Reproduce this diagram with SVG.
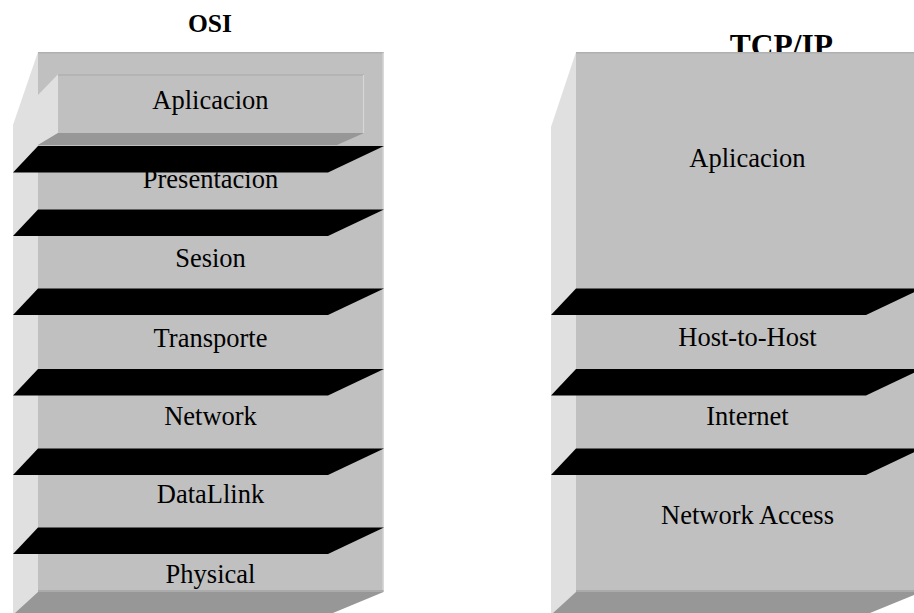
<svg xmlns="http://www.w3.org/2000/svg" width="914" height="613" viewBox="0 0 914 613">
  <style>
    .body { fill: #c0c0c0; }
    .light { fill: #e0e0e0; }
    .dark { fill: #979797; }
    .plate { fill: #000000; }
    .bevel-top { stroke: #b0b0b0; stroke-width: 1.5; fill: none; }
    .bevel-right { stroke: #d6d6d6; stroke-width: 1.2; fill: none; }
    .bevel-bottom { stroke: #ababab; stroke-width: 2; fill: none; }
    .label { font-family: "Liberation Serif", "Times New Roman", serif; font-size: 26.5px; fill: #000000; text-anchor: middle; }
    .title { font-family: "Liberation Serif", "Times New Roman", serif; font-weight: bold; fill: #000000; text-anchor: middle; }
  </style>
  <rect x="0" y="0" width="914" height="613" fill="#ffffff"/>

  <!-- OSI stack -->
  <g id="osi-title">
    <text class="title" x="210" y="32" font-size="25.5">OSI</text>
  </g>
  <g id="osi-stack">
    <polygon class="light" points="13,125 38,52 38,613 13,613"/>
    <rect class="body" x="38" y="52" width="345.5" height="540"/>
    <polygon class="dark" points="38,592 383.5,592 333,613 15,613"/>
    <line class="bevel-top" x1="38" y1="52.8" x2="383.5" y2="52.8"/>
    <line class="bevel-right" x1="383" y1="53" x2="383" y2="591"/>
    <line class="bevel-bottom" x1="38" y1="591" x2="383.5" y2="591"/>
  </g>
  <g id="osi-aplicacion">
    <polygon class="light" points="38,95 58,74.3 58,133 38,145"/>
    <rect class="body" x="58" y="74.3" width="306" height="58.7"/>
    <polygon class="dark" points="58,133 364,133 337,145 38,145"/>
    <line class="bevel-top" x1="58" y1="75" x2="364" y2="75"/>
    <line class="bevel-right" x1="363.5" y1="75" x2="363.5" y2="133"/>
    <text class="label" x="210.5" y="109">Aplicacion</text>
  </g>
  <g id="osi-presentacion">
    <text class="label" x="210.5" y="188">Presentacion</text>
  </g>
  <g id="osi-sesion">
    <text class="label" x="210.5" y="267">Sesion</text>
  </g>
  <g id="osi-transporte">
    <text class="label" x="210.5" y="346.7">Transporte</text>
  </g>
  <g id="osi-network">
    <text class="label" x="210.5" y="425">Network</text>
  </g>
  <g id="osi-datalink">
    <text class="label" x="210.5" y="503">DataLlink</text>
  </g>
  <g id="osi-physical">
    <text class="label" x="210.5" y="583">Physical</text>
  </g>
  <g id="osi-separators">
    <polygon class="plate" points="38,146 384,146 328,172.5 13,172.5"/>
    <polygon class="plate" points="38,209.5 384,209.5 328,236 13,236"/>
    <polygon class="plate" points="38,288.5 384,288.5 328,315 13,315"/>
    <polygon class="plate" points="38,369 384,369 328,395.5 13,395.5"/>
    <polygon class="plate" points="38,448.5 384,448.5 328,475 13,475"/>
    <polygon class="plate" points="38,527.5 384,527.5 328,554 13,554"/>
  </g>

  <!-- TCP/IP stack -->
  <g id="tcpip-title">
    <text class="title" x="781.5" y="56" font-size="31.5">TCP/IP</text>
  </g>
  <g id="tcpip-stack">
    <polygon class="light" points="551,127 576,52 576,613 551,613"/>
    <rect class="body" x="576" y="52" width="345.5" height="540"/>
    <polygon class="dark" points="576,592 921.5,592 870,613 553,613"/>
    <line class="bevel-top" x1="576" y1="52.8" x2="921.5" y2="52.8"/>
    <line class="bevel-bottom" x1="576" y1="591" x2="921.5" y2="591"/>
  </g>
  <g id="tcpip-aplicacion">
    <text class="label" x="747.5" y="166.7">Aplicacion</text>
  </g>
  <g id="tcpip-host-to-host">
    <text class="label" x="747.5" y="346">Host-to-Host</text>
  </g>
  <g id="tcpip-internet">
    <text class="label" x="747.5" y="425">Internet</text>
  </g>
  <g id="tcpip-network-access">
    <text class="label" x="747.5" y="524.3">Network Access</text>
  </g>
  <g id="tcpip-separators">
    <polygon class="plate" points="576,288.5 922,288.5 866,315 551,315"/>
    <polygon class="plate" points="576,369 922,369 866,395.5 551,395.5"/>
    <polygon class="plate" points="576,448.5 922,448.5 866,475 551,475"/>
  </g>

  <g id="connectors"></g>
</svg>
